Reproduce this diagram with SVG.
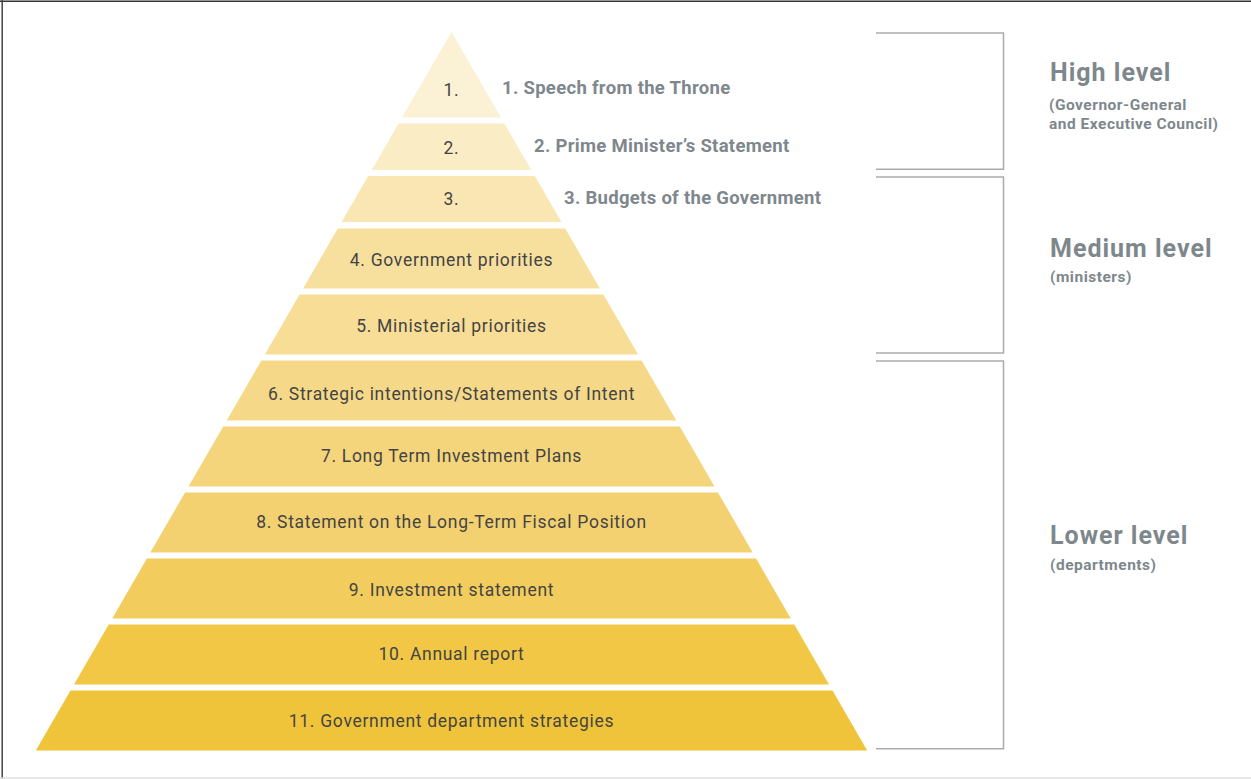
<svg xmlns="http://www.w3.org/2000/svg" width="1251" height="779" viewBox="0 0 1251 779">
  <style>
    .band-label { font-family: Roboto, "Liberation Sans", sans-serif; font-size: 17.5px; letter-spacing: 0.7px; fill: #444444; text-anchor: middle; }
    .side-label { font-family: Roboto, "Liberation Sans", sans-serif; font-size: 18.5px; letter-spacing: 0.3px; font-weight: bold; fill: #7e878c; }
    .level-title { font-family: Roboto, "Liberation Sans", sans-serif; font-size: 25px; letter-spacing: 1px; font-weight: bold; fill: #7e878c; }
    .level-sub { font-family: Roboto, "Liberation Sans", sans-serif; font-size: 15.5px; letter-spacing: 0.5px; font-weight: bold; fill: #7e878c; }
    .bracket { fill: none; stroke: #a9acae; stroke-width: 1.5; }
  </style>

  <!-- page background and frame -->
  <rect x="0" y="0" width="1251" height="779" fill="#ffffff"/>
  <line x1="0" y1="1.2" x2="1251" y2="1.2" stroke="#333333" stroke-width="1.5"/>
  <line x1="2.2" y1="0" x2="2.2" y2="779" stroke="#444444" stroke-width="1.5"/>
  <line x1="0" y1="778" x2="1251" y2="778" stroke="#e0e0e0" stroke-width="1.5"/>

  <!-- pyramid bands, top to bottom -->
  <g id="band-1">
    <polygon points="451.5,32 501.0,117.5 402.0,117.5" fill="#fbf1d5"/>
    <text class="band-label" x="451.5" y="96">1.</text>
  </g>
  <g id="band-2">
    <polygon points="398.6,123.5 504.4,123.5 531.3,170 371.7,170" fill="#faecc4"/>
    <text class="band-label" x="451.5" y="153.5">2.</text>
  </g>
  <g id="band-3">
    <polygon points="368.2,176 534.8,176 561.4,222 341.6,222" fill="#f9e6b3"/>
    <text class="band-label" x="451.5" y="205">3.</text>
  </g>
  <g id="band-4">
    <polygon points="337.8,228.5 565.2,228.5 599.9,288.5 303.1,288.5" fill="#f7e09e"/>
    <text class="band-label" x="451.5" y="265.5">4. Government priorities</text>
  </g>
  <g id="band-5">
    <polygon points="299.6,294.5 603.4,294.5 638.1,354.5 264.9,354.5" fill="#f7dd96"/>
    <text class="band-label" x="451.5" y="331.5">5. Ministerial priorities</text>
  </g>
  <g id="band-6">
    <polygon points="261.4,360.5 641.6,360.5 676.3,420.5 226.7,420.5" fill="#f5d989"/>
    <text class="band-label" x="451.5" y="400">6. Strategic intentions/Statements of Intent</text>
  </g>
  <g id="band-7">
    <polygon points="223.2,426.5 679.8,426.5 714.5,486.5 188.5,486.5" fill="#f4d57c"/>
    <text class="band-label" x="451.5" y="462">7. Long Term Investment Plans</text>
  </g>
  <g id="band-8">
    <polygon points="185.1,492.5 717.9,492.5 752.7,552.5 150.3,552.5" fill="#f3d170"/>
    <text class="band-label" x="451.5" y="528">8. Statement on the Long-Term Fiscal Position</text>
  </g>
  <g id="band-9">
    <polygon points="146.9,558.5 756.1,558.5 790.8,618.5 112.2,618.5" fill="#f2cd5d"/>
    <text class="band-label" x="451.5" y="596">9. Investment statement</text>
  </g>
  <g id="band-10">
    <polygon points="108.7,624.5 794.3,624.5 829.0,684.5 74.0,684.5" fill="#f1c745"/>
    <text class="band-label" x="451.5" y="660">10. Annual report</text>
  </g>
  <g id="band-11">
    <polygon points="70.5,690.5 832.5,690.5 867.2,750.5 35.8,750.5" fill="#f0c43a"/>
    <text class="band-label" x="451.5" y="726.5">11. Government department strategies</text>
  </g>

  <!-- names of the top three bands, set beside the apex -->
  <g id="apex-names">
    <text class="side-label" x="502" y="94">1. Speech from the Throne</text>
    <text class="side-label" x="534" y="152">2. Prime Minister’s Statement</text>
    <text class="side-label" x="564" y="204">3. Budgets of the Government</text>
  </g>

  <!-- level brackets -->
  <g id="connectors">
    <path class="bracket" d="M876,33 H1003.5 V169.3 H876"/>
    <path class="bracket" d="M876,177 H1003.5 V353 H876"/>
    <path class="bracket" d="M876,361 H1003.5 V748.7 H876"/>
  </g>

  <!-- level headings -->
  <g id="level-high">
    <text class="level-title" x="1050" y="81">High level</text>
    <text class="level-sub" x="1049" y="110">(Governor-General</text>
    <text class="level-sub" x="1049" y="128.5">and Executive Council)</text>
  </g>
  <g id="level-medium">
    <text class="level-title" x="1050" y="257">Medium level</text>
    <text class="level-sub" x="1050" y="282">(ministers)</text>
  </g>
  <g id="level-lower">
    <text class="level-title" x="1050" y="544">Lower level</text>
    <text class="level-sub" x="1050" y="570">(departments)</text>
  </g>
</svg>
